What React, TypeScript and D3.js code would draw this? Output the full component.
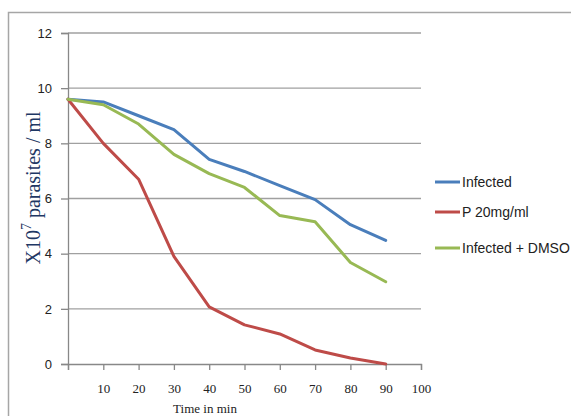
import React, { useEffect, useRef } from 'react';
import * as d3 from 'd3';

const times = [0, 10, 20, 30, 40, 50, 60, 70, 80, 90];
const infected = [9.6, 9.5, 9.0, 8.5, 7.42, 6.98, 6.47, 5.96, 5.05, 4.48];
const p20 = [9.6, 8.0, 6.7, 3.9, 2.07, 1.42, 1.09, 0.51, 0.22, 0.0];
const infectedDmso = [9.6, 9.4, 8.7, 7.6, 6.9, 6.4, 5.38, 5.16, 3.68, 2.98];
const seriesNames = ['Infected', 'P 20mg/ml', 'Infected + DMSO'];
const xTicks = [0, 10, 20, 30, 40, 50, 60, 70, 80, 90, 100];
const yTicks = [0, 2, 4, 6, 8, 10, 12];

const colors = ['#4a7ebb', '#be4b48', '#98b954'];

const App = () => {
  const ref = useRef<SVGSVGElement>(null);

  useEffect(() => {
    if (!ref.current) return;
    const svg = d3.select(ref.current);
    svg.selectAll('*').remove();

    const x = d3.scaleLinear().domain([0, 100]).range([68, 421]);
    const y = d3.scaleLinear().domain([0, 12]).range([364, 33]);

    // outer chart border
    svg
      .append('rect')
      .attr('x', 8.5)
      .attr('y', 12.5)
      .attr('width', 600)
      .attr('height', 440)
      .attr('fill', '#fff')
      .attr('stroke', '#a6a6a6')
      .attr('stroke-width', 1.5);

    // gridlines
    svg
      .append('g')
      .selectAll('line')
      .data(yTicks.filter((d) => d > 0))
      .join('line')
      .attr('x1', x(0))
      .attr('x2', x(100))
      .attr('y1', (d) => y(d))
      .attr('y2', (d) => y(d))
      .attr('stroke', '#a0a0a0')
      .attr('stroke-width', 1.3);

    // y axis
    const yAxis = svg
      .append('g')
      .attr('transform', `translate(${x(0)},0)`)
      .call(d3.axisLeft(y).tickValues(yTicks).tickSize(7).tickPadding(9));
    yAxis.select('.domain').attr('stroke', '#888').attr('stroke-width', 1.3);
    yAxis.selectAll('.tick line').attr('stroke', '#888').attr('stroke-width', 1.3);
    yAxis
      .selectAll('.tick text')
      .attr('font-family', 'Liberation Sans, Arial, sans-serif')
      .attr('font-size', 13)
      .attr('fill', '#222');

    // x axis
    const xAxis = svg
      .append('g')
      .attr('transform', `translate(0,${y(0)})`)
      .call(
        d3
          .axisBottom(x)
          .tickValues(xTicks)
          .tickSize(6)
          .tickPadding(14)
          .tickFormat((d) => (d === 0 ? '' : String(d))),
      );
    xAxis.select('.domain').attr('stroke', '#888').attr('stroke-width', 1.3);
    xAxis.selectAll('.tick line').attr('stroke', '#888').attr('stroke-width', 1.3);
    xAxis
      .selectAll('.tick text')
      .attr('font-family', 'Liberation Serif, Times New Roman, serif')
      .attr('font-size', 13)
      .attr('fill', '#222');

    // lines
    const series = [infected, p20, infectedDmso];
    const line = d3
      .line<number>()
      .x((_, i) => x(times[i]))
      .y((d) => y(d));
    svg
      .append('g')
      .selectAll('path')
      .data(series)
      .join('path')
      .attr('d', (d) => line(d))
      .attr('fill', 'none')
      .attr('stroke', (_, i) => colors[i])
      .attr('stroke-width', 3)
      .attr('stroke-linejoin', 'round')
      .attr('stroke-linecap', 'round');

    // axis titles
    const yt = svg
      .append('text')
      .attr('transform', 'translate(40,188) rotate(-90)')
      .attr('text-anchor', 'middle')
      .attr('font-family', 'Liberation Serif, Times New Roman, serif')
      .attr('font-size', 20)
      .attr('fill', '#1f3864');
    yt.append('tspan').text('X10');
    yt.append('tspan').attr('dy', -9).attr('font-size', 14).text('7');
    yt.append('tspan').attr('dy', 9).text(' parasites / ml');

    svg
      .append('text')
      .attr('x', 205)
      .attr('y', 413)
      .attr('text-anchor', 'middle')
      .attr('font-family', 'Liberation Serif, Times New Roman, serif')
      .attr('font-size', 13)
      .attr('fill', '#222')
      .text('Time in min');

    // legend
    const legendY = [182, 212, 248];
    const lg = svg
      .append('g')
      .selectAll('g')
      .data(seriesNames)
      .join('g')
      .attr('transform', (_, i) => `translate(435,${legendY[i]})`);
    lg.append('line')
      .attr('x1', 0)
      .attr('x2', 25)
      .attr('stroke', (_, i) => colors[i])
      .attr('stroke-width', 3);
    lg.append('text')
      .attr('x', 27)
      .attr('dy', '0.35em')
      .attr('font-family', 'Liberation Sans, Arial, sans-serif')
      .attr('font-size', 14)
      .attr('fill', '#222')
      .text((d) => d);
  }, []);

  return (
    <svg
      ref={ref}
      width={571}
      height={416}
      style={{ position: 'absolute', left: 0, top: 0, background: '#fff' }}
    />
  );
};

export default App;
